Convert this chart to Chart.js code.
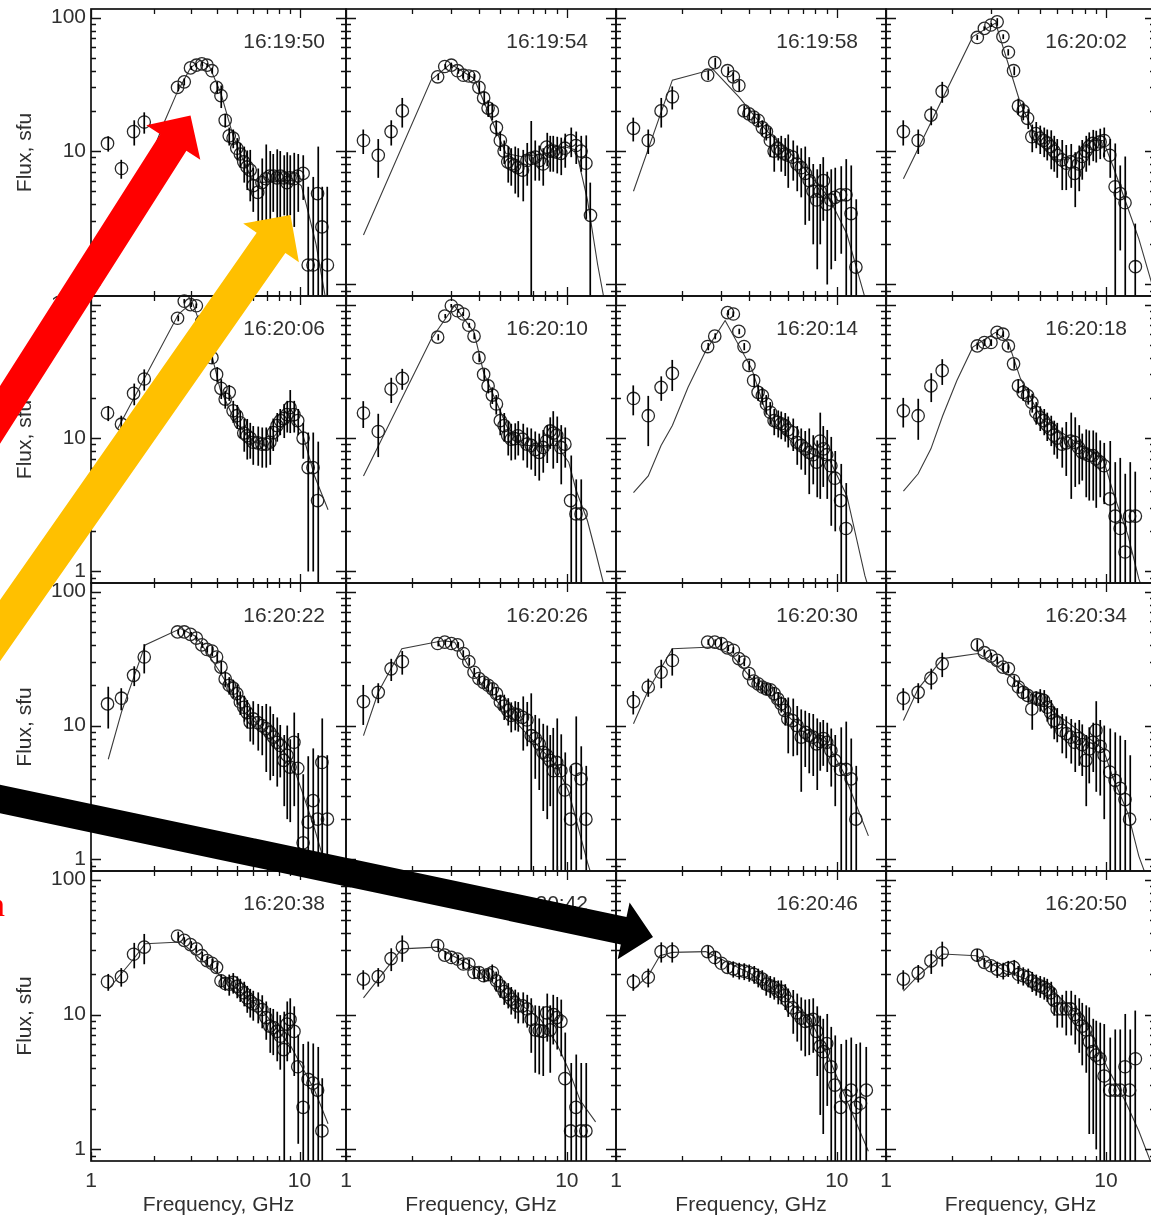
<!DOCTYPE html>
<html><head><meta charset="utf-8">
<script src="https://cdn.jsdelivr.net/npm/chart.js@4.4.0/dist/chart.umd.min.js"></script>
<style>
html,body{margin:0;padding:0;background:#fff;}
#wrap{position:relative;width:1151px;height:1217px;overflow:hidden;background:#fff;}
#wrap canvas{position:absolute;}
#ov{position:absolute;left:0;top:0;pointer-events:none;}
</style></head>
<body><div id="wrap"></div>
<script>
// ---------------- data ----------------
const FREQ = [1.2,1.4,1.6,1.8, 2.6,2.8,3.0,3.2,3.4,3.6, 3.8,4.0,4.2,4.4,4.6, 4.8,5.0,5.2,5.4,5.6, 5.8,6.0,6.3,6.6,6.9, 7.2,7.5,7.8,8.1,8.4, 8.7,9.0,9.4,9.8,10.4, 11.0,11.6,12.2,12.8,13.6];
const TIMES = ['16:19:50','16:19:54','16:19:58','16:20:02','16:20:06','16:20:10','16:20:14','16:20:18','16:20:22','16:20:26','16:20:30','16:20:34','16:20:38','16:20:42','16:20:46','16:20:50'];

const FLUX_1950 = [11.4,7.4,14,16.5, 30,33,42,44,45,44, 40,30,26,17,13, 12.5,10.5,9.5,8.3,7.6, 7.2,5.5,4.9,5.8,6.2, 6.5,6.5,6.3,6.5,6.3, 5.8,6.3,6.2,6.5,6.8, 1.4,1.4,4.8,2.7,1.4];
const ERR_1950  = [1.5,1.2,3,3, 2,2,1.5,1.5,1.5,1.5, 2,3,5,2,2, 2,2,2,2.5,2.5, 3,2,2.5,3,5, 3.5,3,4,3.5,3, 4,3,3.5,3,2.5, 4,5,6,2.7,4];
const FITF_1950 = [2.0,2.25,2.6,3.0,3.35,3.7,4.2,4.8,5.3,5.9,6.5,8.0,9.5,10.2,11.0,12.0,13.3,14.5];
const FITV_1950 = [10.4,16.6,28,42,48,43,27,13,9,6.2,5.8,6,6,5.5,3.5,2.0,0.8,0.4];

const FLUX_1954 = [12,9.3,14,20, 36,43,44,40,37,36.5, 36,30,25,21,20, 15,12,10,8.3,8, 7.8,7.5,7.2,8.5,8.8, 9,8.5,8,10.7,10, 10,9.8,9.6,10.5,12, 11,10,8.1,3.3,null];
const ERR_1954  = [2.5,3,3,5, 2,2,2,2,2,2, 2,3,3,3,3, 2,2,2,2.5,2.5, 3,3,3,3,8, 3,2.5,2.5,3,3, 3,3,3,3,3, 3,3,5,2.5,0];
const FITF_1954 = [1.2,2.43,2.97,3.8,5.3,6.2,8.3,9.7,11,12.4,13.8,15.5];
const FITV_1954 = [2.35,34,45,35,9.6,9.1,9.6,10.8,10.2,4.3,1.4,0.5];

const FLUX_1958 = [14.8,12,20,25.5, 37,46,null,40,36,31, 20,19,18,17,15, 14,12,10,10.5,10, 9.5,9.3,9,8,7.5, 6.8,6,5,4.3,5, 6,4,4.3,4.5,4.7, 4.7,3.4,1.35,null,null];
const ERR_1958  = [3,2.5,5,5, 3,4,0,3,3,3, 2,2,2,2,2, 2,3,3,2,3, 3,4,3,3,3, 4,3,3,3,3, 3,3,3,3,3, 4,4.4,3,0,0];
const FITF_1958 = [1.2,1.8,2.75,3.6,4.77,6.6,9.2,11.1,13.4,15];
const FITV_1958 = [5.0,34,41,25.5,14.4,8.6,4.5,2.4,0.8,0.4];

const FLUX_2002 = [14,12,18.6,28, 71,83,88,93,72,55, 40,21.7,20,17.6,12.8, 13.5,12.5,12,11.5,10.8, 10,9.3,8.6,8.1,8.3, 6.8,8,9.1,10,10.8, 11.4,11.2,11.7,12,9.3, 5.4,4.8,4.1,null,1.36];
const ERR_2002  = [3,2.5,3,5, 3,3,3,6,3,3, 3,3,3,3,3, 3,3,3,3,3.5, 3,3,3.5,3,3, 3,3,3,3,3, 3,3,3,3,3, 6,3,5,0,1.5];
const FITF_2002 = [1.2,2.48,3.15,4.08,4.8,5.8,6.7,8.7,9.7,10.8,12.2,14.1,16.5];
const FITV_2002 = [6.2,72,91,22.8,12.8,8.6,8.6,12,12,7.6,4.3,2.2,0.9];

const FLUX_2006 = [15.4,12.7,21.6,27.7, 79,106,100,98,75,55, 40,30,23.6,19.6,22, 16,14.7,13,10.9,10.4, 10,9.3,9.2,9.0,9, 9.3,11,12.4,13.5,14, 15,16.9,15,13.5,10, 6,6,3.4,null,null];
const ERR_2006  = [2,2,4,5, 4,4,4,4,4,4, 4,4,4,3,3, 3,3,3,3,3.5, 3,3,3,3,3, 3,3,3,3,4, 4,6,4,3,3, 5,5,6,0,0];
const FITF_2006 = [1.34,2.63,3.06,3.8,4.16,4.95,6.1,7.0,8.3,9.1,10.3,11.8,13.7];
const FITV_2006 = [11.7,85,104,41.4,23.3,13,9.3,8.8,12.4,13.9,11,5.2,2.9];

const FLUX_2010 = [15.4,11.2,23.3,28, 57,82,98,90,85,70, 58,40,30,24.6,21, 18,13.5,12.4,10.4,9.8, 9.9,10.4,9.8,9.0,8.8, 8.2,7.8,8.5,9.5,11.3, 10.9,10.5,8.5,9,3.4, 2.7,2.7,null,null,null];
const ERR_2010  = [3.5,4,5,5, 3,3,3,3,3,3, 3,3,3,3,3, 3,3,3,3,3, 3,3,3,3,3, 3,3,3,3,3, 5,4,4,3,4, 2.2,2.2,0,0,0];
const FITF_2010 = [1.2,2.43,3.1,3.8,4.2,5.5,6.5,9.0,10.2,11,12.4,13.5,15];
const FITV_2010 = [5.2,55,98,62,31,11,8.8,8.8,6.6,4.1,2.4,1.4,0.7];

const FLUX_2014 = [19.8,14.7,24,30.5, 48.5,58,null,87,85,63, 48.5,35,27,22,20.8, 18,15.6,13.5,13.1,12.8, 12.4,11.5,11,9.3,8.8, 8.3,7.8,7.5,6.6,9.5, 8.3,7.5,6.2,5,3.4, 2.1,null,null,null,null];
const ERR_2014  = [5,6,5,8, 3,3,0,4,4,3, 3,3,3,3,3, 3,3,3,3,3, 3,3,3,3,3, 3,4,3,3,6, 4,4,4,3,3, 2.5,0,0,0,0];
const FITF_2014 = [1.2,1.4,1.6,1.8,2.12,2.55,3.12,4.12,4.77,6.65,9.3,11.1,13.4,15];
const FITV_2014 = [3.9,5.2,8.8,12.4,24,45,76,33,15.6,8.3,6.8,3.7,0.93,0.5];

const FLUX_2018 = [16,14.7,24.6,32, 49,52,52,62,60,49, 36,24.6,22,20.8,18.5, 15.6,14.3,13.5,12.5,11.7, 10.5,10,9,9.2,9.5, 9.3,8.5,7.8,7.6,7.4, 7.4,7,6.6,6.2,3.5, 2.6,2.1,1.4,2.6,2.6];
const ERR_2018  = [4,5,6,7, 3,3,3,3,3,3, 3,3,3,3,3, 3,3,3,3,3, 3,3,3,4,6, 5,4,3,4,4, 4,4,3,3,6, 4,5,4,4,3];
const FITF_2018 = [1.2,1.4,1.6,1.81,2.1,2.48,3.15,3.6,4.08,5.1,7.3,9.7,10.9,12.6,14.1,16];
const FITV_2018 = [4.0,5.4,8.3,14.7,27,48,62,52,28,13.9,9.3,7.0,3.7,1.86,0.88,0.5];

const FLUX_2022 = [14.5,16,23.7,32.5, 50,50,48,45,40,37, 36,32.5,27.3,22.3,20, 19,17.3,15,13.7,12.5, 10.6,11.2,10.5,10,9.5, 8.9,8.2,7.5,7.1,5.5, 6,4.9,7.5,4.8,1.33, 1.9,2.75,2.0,5.3,2.0];
const ERR_2022  = [5,3,4,8, 2,2,2,2,2,2, 3,3,3,3,3, 3,3,3,3,3, 3,4,4,4,5, 5,4,4,3,3, 4,3,5,4,3, 4,4,4,6,4];
const FITF_2022 = [1.21,1.4,1.82,2.69,3.2,4.16,5.4,7.0,9.1,10.3,11.8,12.9,14];
const FITV_2022 = [5.6,12.6,40,53,46,25,12.6,8.9,5.5,3.2,1.7,1.06,0.7];

const FLUX_2026 = [15.1,17.7,26.5,30, 41,42,41,40,34.5,30, 25,22.4,21,20,18.8, 17.3,15,14,13,11.9, 12.2,12,11.5,11,8.4, 8,7.3,6.3,6,5.5, 4.6,5.3,4.6,3.3,2.0, 4.7,4.0,2.0,null,null];
const ERR_2026  = [5,3,5,6, 2,2,2,2,2,2, 2,2,2,2,2, 2,2,3,3,3, 3,3,5,4,9, 4,4,4,4,3, 5,6,4,3,3, 7,3,3,0,0];
const FITF_2026 = [1.2,1.4,1.79,2.74,3.1,3.8,5.5,9.0,10.2,12.4,14];
const FITV_2026 = [8.4,17.7,37.5,43,42,23.7,11.9,5.0,3.2,0.95,0.5];

const FLUX_2030 = [15.1,19.4,25,30.6, 42,42,41,38,36.5,31.6, 29.8,24.4,21.5,20.5,19.4, 18.8,18.5,17.3,15.8,14.5, 13,11.2,10.9,10,8.2, 8.9,8.4,8.2,7.3,7.6, 8,7.5,6.5,5.5,4.7, 4.7,4,2.0,null,null];
const ERR_2030  = [3,3,6,7, 2,2,4,2,2,2, 2,2,2,2,2, 2,2,2,2,2, 3,5,5,4,5, 4,4,4,4,3, 3,3,3,3,5, 6,4,3,0,0];
const FITF_2030 = [1.2,1.41,1.8,2.74,3.3,4.12,6.2,9,10.7,13.9];
const FITV_2030 = [10.3,18.8,37.5,38.6,34.5,22.3,11.2,7.5,4.5,1.5];

const FLUX_2034 = [16,17.7,22.6,29, 40,35,33,30.7,27.3,26.6, 21.7,19.4,17.7,16.8,13.3, 16,15.7,15.4,13.7,12.5, 10.9,10.5,9.2,8.7,8.2, 7.5,8,7.2,5.5,6.7, 7.5,9.2,7,6,4.5, 3.9,3.4,2.8,2.0,null];
const ERR_2034  = [3,3,4,6, 4,2,2,2,2,2, 2,2,2,2,4, 2,3,3,3,3, 3,3,3,3,3, 3,3,3,3,3, 3,6,4,4,5, 5,5,5,4,0];
const FITF_2034 = [1.2,1.4,1.81,2.62,2.87,4.16,5.8,8.4,9.7,10.8,12.6,14.1,16];
const FITV_2034 = [10.9,18.8,31.6,34.5,31.6,20,12.6,8,6.7,4.0,2.2,1.06,0.6];

const FLUX_2038 = [17.5,19.1,28,31.6, 38.2,35.5,33,30.7,27.3,25.1, 24,22.4,17.8,17,16.8, 17.3,16.2,15.4,14.5,13.3, 12.5,12,11.6,10.9,9.5, 8.2,8,7.5,6.9,5.5, 8.5,9.2,7.5,4.1,2.05, 3.3,3.1,2.75,1.37,null];
const ERR_2038  = [2.5,3,6,8, 3,2,2,2,2,2, 2,2,2,2,3, 3,3,3,3,3, 3,3,3,3,3, 3,3,3,3,5, 4,4,4,3,4, 3,3,3,2,0];
const FITF_2038 = [1.21,1.6,1.82,2.7,4.16,6.4,9.1,11.8,13.7];
const FITV_2038 = [15.4,25.8,33.5,34.5,19.4,11.5,5.8,2.75,1.55];

const FLUX_2042 = [18.3,19.1,26,31.6, 32.5,27.6,26.5,25.8,23.7,23.7, 20.5,20.5,19.4,19.8,20.5, 17.8,16.3,14.8,14.1,13, 12.3,11.6,11.6,11,9.2, 7.7,7.6,7.5,10.3,7.7, 10,9.5,8.9,3.35,1.37, 2.05,1.37,1.37,null,null];
const ERR_2042  = [3,3,5,7, 3,2,2,2,2,2, 2,2,2,2,3, 3,3,3,3,3, 3,3,3,3,4, 4,4,4,4,4, 4,4,4,4,3, 3,3,3,0,0];
const FITF_2042 = [1.2,1.4,1.79,2.58,3.7,5.5,7.6,9.0,10.2,11.5,13.5];
const FITV_2042 = [13.3,18.3,30.7,31.6,23,13.7,9.2,6.1,3.9,2.3,1.6];

const FLUX_2046 = [17.5,18.9,29.3,29.3, 29.3,26.5,24,22.4,21.8,21.2, 21,20.5,19.9,18.9,18.3, 16.8,16.3,15.9,14.9,14.9, 13.8,12.6,11.2,10.3,9.4, 8.9,9.0,9.2,7.5,5.8, 5.3,6.1,4.1,3.0,2.05, 2.5,2.75,2.05,2.2,2.75];
const ERR_2046  = [2.5,3,5,5, 3,3,2,2,3,3, 3,3,3,3,3, 3,3,3,3,3, 3,3,4,4,4, 4,4,4,4,4, 4,4,4,4,4, 4,4,4,4,3];
const FITF_2046 = [1.2,1.4,1.58,1.8,2.55,4.1,5.96,7.7,9.3,11.1,13.9];
const FITV_2046 = [15.4,19.4,27.3,28.9,29.3,20,13,8.7,4.6,2.3,0.97];

const FLUX_2050 = [18.3,20.3,25,28.7, 27.6,24.4,23,21.7,21.2,22, 22.4,19.9,19.4,18.9,17.7, 16.8,16.3,15.9,15.4,14.5, 12.8,11,11,11,11, 10,9.2,8.2,7.7,6.3, 5.3,5.0,4.7,3.5,2.75, 2.75,2.75,4.1,2.75,4.7];
const ERR_2050  = [3,3,5,6, 3,2,2,3,3,3, 3,3,3,3,3, 3,3,3,3,3, 3,3,3,4,4, 4,4,4,4,5, 4,4,4,5,4, 5,5,6,5,6];
const FITF_2050 = [1.2,1.4,1.81,2.57,3.45,5.6,8.1,10.1,12.2,14.1,16];
const FITV_2050 = [14.9,19.4,28.1,27.3,21.2,15.6,8.7,4.1,2.3,1.37,0.8];

const Y_MAJOR = [1,10,100];
const Y_MINOR = [0.9,2,3,4,5,6,7,8,9,20,30,40,50,60,70,80,90];
const X_MAJOR = [1,10];
const X_MINOR = [2,3,4,5,6,7,8,9];
const Y_LABELS = ['1','10','100'];
const X_LABELS = ['1','10'];
const X_TITLE = 'Frequency, GHz';
const Y_TITLE = 'Flux, sfu';

// ---------------- layout ----------------
const X_MIN = 1, X_MAX = 16.7, Y_MIN = 0.82, Y_MAX = 116;
const COL_L = [91,346,616,886], COL_R = [346,616,886,1155];
const ROW_T = [9,296,583,871], ROW_B = [296,583,871,1161];
const FONT = '21px "Liberation Sans", Arial, sans-serif';
const TXT = '#303030';

const SERIES = [
 [FLUX_1950,ERR_1950,FITF_1950,FITV_1950],[FLUX_1954,ERR_1954,FITF_1954,FITV_1954],
 [FLUX_1958,ERR_1958,FITF_1958,FITV_1958],[FLUX_2002,ERR_2002,FITF_2002,FITV_2002],
 [FLUX_2006,ERR_2006,FITF_2006,FITV_2006],[FLUX_2010,ERR_2010,FITF_2010,FITV_2010],
 [FLUX_2014,ERR_2014,FITF_2014,FITV_2014],[FLUX_2018,ERR_2018,FITF_2018,FITV_2018],
 [FLUX_2022,ERR_2022,FITF_2022,FITV_2022],[FLUX_2026,ERR_2026,FITF_2026,FITV_2026],
 [FLUX_2030,ERR_2030,FITF_2030,FITV_2030],[FLUX_2034,ERR_2034,FITF_2034,FITV_2034],
 [FLUX_2038,ERR_2038,FITF_2038,FITV_2038],[FLUX_2042,ERR_2042,FITF_2042,FITV_2042],
 [FLUX_2046,ERR_2046,FITF_2046,FITV_2046],[FLUX_2050,ERR_2050,FITF_2050,FITV_2050]
];

const panelDecor = {
  id: 'panelDecor',
  afterDraw(chart) {
    const o = chart.options.plugins.panelDecor;
    const {ctx, chartArea: a} = chart;
    const x = chart.scales.x, y = chart.scales.y;
    const flux = o.flux, err = o.err;
    // error bars
    ctx.save();
    ctx.beginPath(); ctx.rect(a.left, a.top, a.right - a.left, a.bottom - a.top); ctx.clip();
    ctx.strokeStyle = '#000'; ctx.lineWidth = 1.7; ctx.lineCap = 'butt';
    flux.forEach((v, i) => {
      if (v == null || !err[i]) return;
      const px = Math.round(x.getPixelForValue(FREQ[i])) + 0.25;
      const hi = y.getPixelForValue(v + err[i]);
      const lo = (v - err[i]) > Y_MIN ? y.getPixelForValue(v - err[i]) : a.bottom;
      ctx.beginPath(); ctx.moveTo(px, hi); ctx.lineTo(px, lo); ctx.stroke();
    });
    ctx.restore();
    // frame
    ctx.save();
    ctx.strokeStyle = '#111'; ctx.lineWidth = 1.7;
    ctx.strokeRect(a.left, a.top, a.right - a.left, a.bottom - a.top);
    ctx.lineWidth = 1.3;
    const yt = (v, len) => {
      if (v < Y_MIN || v > Y_MAX) return;
      const py = Math.round(y.getPixelForValue(v)) + 0.5;
      ctx.beginPath();
      ctx.moveTo(a.left, py); ctx.lineTo(a.left + len, py);
      ctx.moveTo(a.right, py); ctx.lineTo(a.right - len, py);
      ctx.stroke();
    };
    const xt = (v, len) => {
      if (v < X_MIN || v > X_MAX) return;
      const px = Math.round(x.getPixelForValue(v)) + 0.5;
      ctx.beginPath();
      ctx.moveTo(px, a.bottom); ctx.lineTo(px, a.bottom - len);
      ctx.moveTo(px, a.top); ctx.lineTo(px, a.top + len);
      ctx.stroke();
    };
    Y_MAJOR.forEach(v => yt(v, 10)); Y_MINOR.forEach(v => yt(v, 5));
    X_MAJOR.forEach(v => xt(v, 9)); X_MINOR.forEach(v => xt(v, 5));
    // texts
    ctx.fillStyle = TXT; ctx.font = FONT;
    ctx.textAlign = 'right'; ctx.textBaseline = 'middle';
    ctx.fillText(o.time, a.right - (o.col === 0 ? 21 : 28), a.top + 33);
    if (o.col === 0) {
      Y_MAJOR.forEach((v, i) => { ctx.fillText(Y_LABELS[i], a.left - 5, y.getPixelForValue(v)); });
      ctx.save();
      ctx.translate(25, (a.top + a.bottom) / 2); ctx.rotate(-Math.PI / 2);
      ctx.textAlign = 'center'; ctx.fillText(Y_TITLE, 0, 0);
      ctx.restore();
    }
    if (o.row === 3) {
      ctx.textAlign = 'center';
      X_MAJOR.forEach((v, i) => { ctx.fillText(X_LABELS[i], x.getPixelForValue(v), a.bottom + 20); });
      ctx.fillText(X_TITLE, (a.left + a.right) / 2, a.bottom + 44);
    }
    ctx.restore();
  }
};

const wrap = document.getElementById('wrap');
for (let idx = 0; idx < 16; idx++) {
  const r = Math.floor(idx / 4), c = idx % 4;
  const [flux, err, fitF, fitV] = SERIES[idx];
  const PL = c === 0 ? COL_L[0] : 12, PR = 12, PT = r === 0 ? ROW_T[0] : 12, PB = r === 3 ? 56 : 12;
  const w = COL_R[c] - COL_L[c], h = ROW_B[r] - ROW_T[r];
  const cv = document.createElement('canvas');
  cv.width = w + PL + PR; cv.height = h + PT + PB;
  cv.style.left = (COL_L[c] - PL) + 'px'; cv.style.top = (ROW_T[r] - PT) + 'px';
  cv.style.width = cv.width + 'px'; cv.style.height = cv.height + 'px';
  wrap.appendChild(cv);
  const pts = [];
  FREQ.forEach((f, i) => { if (flux[i] != null) pts.push({x: f, y: flux[i]}); });
  const fit = fitF.map((f, i) => ({x: f, y: fitV[i]}));
  new Chart(cv, {
    type: 'scatter',
    data: { datasets: [
      { data: pts, showLine: false, pointStyle: 'circle', pointRadius: 6.2,
        borderColor: '#2a2a2a', backgroundColor: 'rgba(0,0,0,0)',
        pointBorderColor: '#2a2a2a', pointBackgroundColor: 'rgba(0,0,0,0)',
        pointBorderWidth: 1.3, order: 0, clip: 10 },
      { type: 'line', data: fit, borderColor: '#3a3a3a', borderWidth: 1.1,
        pointRadius: 0, tension: 0, fill: false, order: 1, clip: 0 }
    ]},
    options: {
      responsive: false, animation: false, devicePixelRatio: 1, events: [],
      layout: { padding: { left: PL, right: PR, top: PT, bottom: PB } },
      scales: {
        x: { type: 'logarithmic', min: X_MIN, max: X_MAX, display: false },
        y: { type: 'logarithmic', min: Y_MIN, max: Y_MAX, display: false }
      },
      plugins: { legend: { display: false }, tooltip: { enabled: false },
        panelDecor: { flux: flux, err: err, time: TIMES[idx], row: r, col: c } }
    },
    plugins: [panelDecor]
  });
}

// ---------------- annotation arrows (overlay) ----------------
function arrowPts(tip, dir, shaftW, headW, headL, tailLen) {
  const n = Math.hypot(dir[0], dir[1]); const ux = dir[0] / n, uy = dir[1] / n;
  const px = -uy, py = ux;
  const bx = tip[0] - ux * headL, by = tip[1] - uy * headL;
  const tx = bx - ux * tailLen, ty = by - uy * tailLen;
  const hs = shaftW / 2, hh = headW / 2;
  return [[tx + px * hs, ty + py * hs], [bx + px * hs, by + py * hs], [bx + px * hh, by + py * hh], tip,
          [bx - px * hh, by - py * hh], [bx - px * hs, by - py * hs], [tx - px * hs, ty - py * hs]]
    .map(p => p[0].toFixed(1) + ',' + p[1].toFixed(1)).join(' ');
}
const NS = 'http://www.w3.org/2000/svg';
const svg = document.createElementNS(NS, 'svg');
svg.setAttribute('id', 'ov'); svg.setAttribute('width', '1151'); svg.setAttribute('height', '1217');
const arrows = [
  { pts: arrowPts([190.5, 115.5], [0.537, -0.844], 31, 64, 32, 700), fill: '#FF0000' },
  { pts: arrowPts([290.5, 215], [0.573, -0.82], 35, 68, 34, 800), fill: '#FFC000' },
  { pts: arrowPts([653, 937], [653, 138], 28, 58, 30, 900), fill: '#000000' }
];
arrows.forEach(a => {
  const pg = document.createElementNS(NS, 'polygon');
  pg.setAttribute('points', a.pts); pg.setAttribute('fill', a.fill);
  svg.appendChild(pg);
});
const t = document.createElementNS(NS, 'text');
t.setAttribute('x', '-12'); t.setAttribute('y', '916'); t.setAttribute('fill', '#FF0000');
t.setAttribute('font-family', '"Liberation Serif", "Times New Roman", serif'); t.setAttribute('font-size', '34');
t.textContent = 'n';
svg.appendChild(t);
wrap.appendChild(svg);
</script>
</body></html>
